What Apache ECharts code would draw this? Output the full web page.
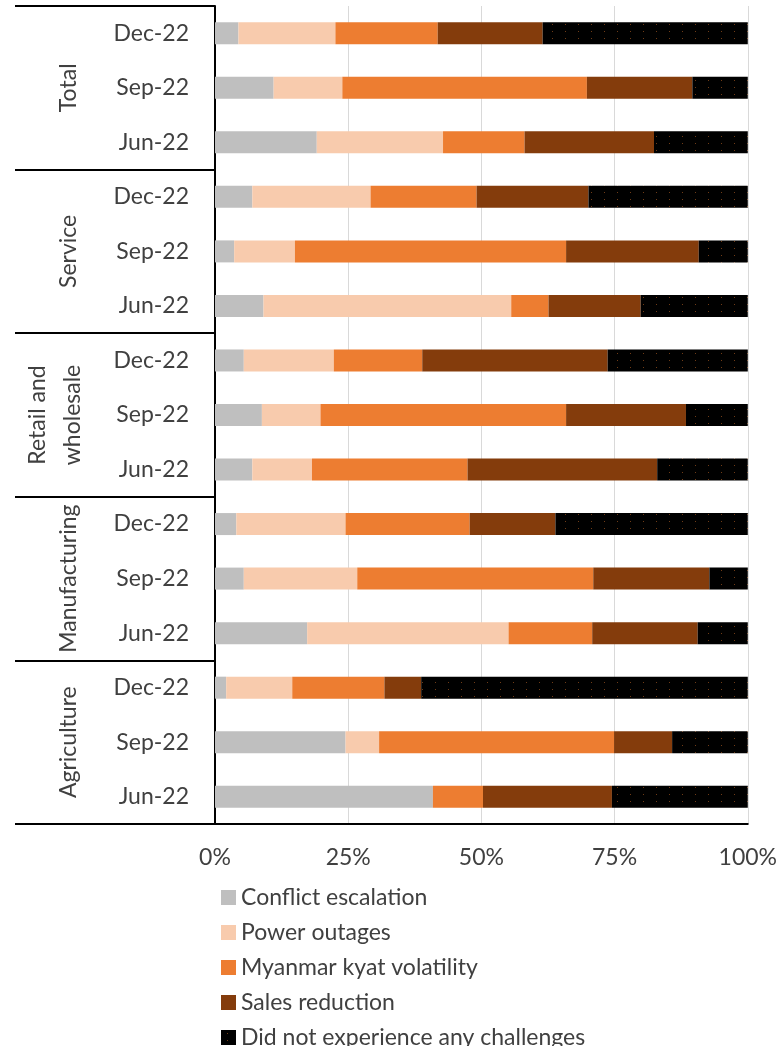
<!DOCTYPE html>
<html>
<head>
<meta charset="utf-8">
<script src="https://cdn.jsdelivr.net/npm/echarts@6/dist/echarts.min.js"></script>
<style>
  html, body { margin: 0; padding: 0; background: #fff; }
  #chart { width: 780px; height: 1046px; }
</style>
</head>
<body>
<div id="chart"></div>
<script>
// Sectors (outer category level) and survey rounds (inner level), top to bottom
const groups = ['Total', 'Service', 'Retail and\nwholesale', 'Manufacturing', 'Agriculture'];
const periods = ['Dec-22', 'Sep-22', 'Jun-22'];

// Share of firms (%) per row, rows ordered group by group, Dec / Sep / Jun
const conflictEscalation = [4.4, 11.0, 19.1,  7.0, 3.6, 9.1,  5.4, 8.8, 7.0,  4.0, 5.4, 17.3,  2.1, 24.5, 40.9];
const powerOutages       = [18.2, 12.9, 23.7, 22.2, 11.4, 46.5, 16.9, 11.0, 11.2, 20.5, 21.3, 37.8, 12.4, 6.3, 0.0];
const kyatVolatility     = [19.2, 45.9, 15.3, 19.9, 50.9, 7.0, 16.6, 46.1, 29.2, 23.3, 44.3, 15.7, 17.3, 44.1, 9.4];
const salesReduction     = [19.7, 19.8, 24.3, 21.0, 24.9, 17.3, 34.8, 22.5, 35.6, 16.1, 21.8, 19.8, 6.9, 10.9, 24.2];
const noChallenges       = [38.5, 10.4, 17.6, 29.9, 9.2, 20.1, 26.3, 11.6, 17.0, 36.1, 7.2, 9.4, 61.3, 14.2, 25.5];

const seriesNames = ['Conflict escalation', 'Power outages', 'Myanmar kyat volatility', 'Sales reduction', 'Did not experience any challenges'];
const xTicks = [0, 25, 50, 75, 100];

// Unique keys for every bar row: "group|period"
const rowKeys = [];
groups.forEach(g => periods.forEach(p => rowKeys.push(g + '|' + p)));

// Black fill with a fine dotted texture
function dottedPattern() {
  const c = document.createElement('canvas');
  c.width = 13; c.height = 7;
  const ctx = c.getContext('2d');
  ctx.fillStyle = '#000';
  ctx.fillRect(0, 0, 13, 7);
  ctx.fillStyle = 'rgba(150,80,30,0.75)';
  ctx.fillRect(6, 3, 1, 1);
  return { image: c, repeat: 'repeat' };
}

const colors = ['#BFBFBF', '#F8CBAD', '#ED7D31', '#843C0C', dottedPattern()];
const values = [conflictEscalation, powerOutages, kyatVolatility, salesReduction, noChallenges];

const font = 'Lato, "Open Sans", sans-serif';
const textColor = '#404040';

const chart = echarts.init(document.getElementById('chart'), null, { renderer: 'canvas' });

chart.setOption({
  animation: false,
  backgroundColor: '#fff',
  textStyle: { fontFamily: font },
  grid: { left: 215, right: 28, top: 6, bottom: 222, containLabel: false },
  xAxis: {
    type: 'value',
    min: xTicks[0],
    max: xTicks[xTicks.length - 1],
    interval: 25,
    axisLine: { show: true, lineStyle: { color: '#000', width: 2 } },
    axisTick: { show: false },
    splitLine: { show: true, lineStyle: { color: '#D9D9D9', width: 1 } },
    axisLabel: {
      formatter: '{value}%',
      fontSize: 23,
      color: textColor,
      fontFamily: font,
      margin: 22
    }
  },
  yAxis: [
    {
      type: 'category',
      inverse: true,
      data: rowKeys,
      axisLine: { show: true, lineStyle: { color: '#000', width: 2 } },
      axisTick: { show: false },
      axisLabel: {
        interval: 0,
        formatter: v => v.split('|')[1],
        fontSize: 23,
        color: textColor,
        fontFamily: font,
        margin: 26
      }
    },
    {
      type: 'category',
      inverse: true,
      data: groups,
      position: 'left',
      offset: 200,
      axisLine: { show: false },
      axisTick: {
        show: true,
        interval: 0,
        inside: true,
        length: 200,
        lineStyle: { color: '#000', width: 2 }
      },
      axisLabel: {
        interval: 0,
        inside: true,
        rotate: 90,
        margin: 5,
        fontSize: 23,
        lineHeight: 35,
        color: textColor,
        fontFamily: font,
        formatter: v => v.indexOf('\n') >= 0 ? v : '{one|' + v + '}',
        rich: {
          one: { fontSize: 23, lineHeight: 98, color: textColor, fontFamily: font }
        }
      }
    }
  ],
  legend: {
    orient: 'vertical',
    left: 221,
    top: 886,
    height: 170,
    padding: 0,
    itemWidth: 15,
    itemHeight: 15,
    itemGap: 12,
    icon: 'rect',
    textStyle: { fontSize: 23, lineHeight: 23, color: textColor, fontFamily: font },
    data: seriesNames
  },
  series: seriesNames.map((name, i) => ({
    name: name,
    type: 'bar',
    stack: 'share',
    yAxisIndex: 0,
    barWidth: 22,
    itemStyle: { color: colors[i] },
    data: values[i]
  }))
});
</script>
</body>
</html>
